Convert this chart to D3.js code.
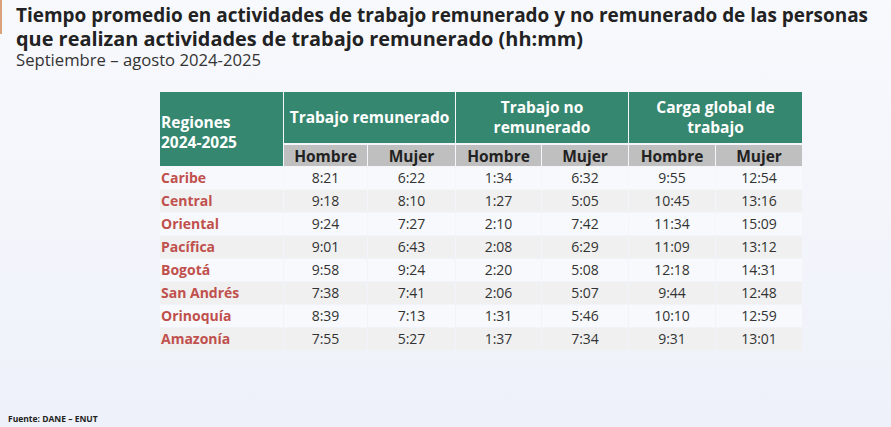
<!DOCTYPE html>
<html><head><meta charset="utf-8">
<script src="https://cdn.jsdelivr.net/npm/d3@7"></script>
<style>body{margin:0;}svg{display:block;}</style>
</head><body><svg id="c" width="891" height="427"></svg>
<script>
const regions = ["Caribe","Central","Oriental","Pacífica","Bogotá","San Andrés","Orinoquía","Amazonía"];
const tremHombre = ["8:21","9:18","9:24","9:01","9:58","7:38","8:39","7:55"];
const tremMujer  = ["6:22","8:10","7:27","6:43","9:24","7:41","7:13","5:27"];
const tnoHombre  = ["1:34","1:27","2:10","2:08","2:20","2:06","1:31","1:37"];
const tnoMujer   = ["6:32","5:05","7:42","6:29","5:08","5:07","5:46","7:34"];
const cargaHombre= ["9:55","10:45","11:34","11:09","12:18","9:44","10:10","9:31"];
const cargaMujer = ["12:54","13:16","15:09","13:12","14:31","12:48","12:59","13:01"];
const groups = [["Trabajo remunerado"],["Trabajo no","remunerado"],["Carga global de","trabajo"]];
const subLabels = ["Hombre","Mujer"];
const cols = [tremHombre,tremMujer,tnoHombre,tnoMujer,cargaHombre,cargaMujer];

const svg = d3.select("#c");
const F = "'Open Sans','Noto Sans',sans-serif";
const defs = svg.append("defs");
const g = defs.append("linearGradient").attr("id","bg").attr("x1",0).attr("y1",0).attr("x2",0).attr("y2",1);
g.append("stop").attr("offset","0").attr("stop-color","#f8f9fd");
g.append("stop").attr("offset","1").attr("stop-color","#eef1f9");
svg.append("rect").attr("width",891).attr("height",427).attr("fill","url(#bg)");
svg.append("rect").attr("x",0).attr("y",0).attr("width",2).attr("height",34).attr("fill","#d9a27a");

svg.append("text").attr("x",16).attr("y",22).attr("font-family",F).attr("font-weight",700).attr("font-size",19).attr("fill","#222")
  .attr("textLength",852).attr("lengthAdjust","spacingAndGlyphs")
  .text("Tiempo promedio en actividades de trabajo remunerado y no remunerado de las personas");
svg.append("text").attr("x",16).attr("y",46).attr("font-family",F).attr("font-weight",700).attr("font-size",19).attr("fill","#222")
  .attr("textLength",567).attr("lengthAdjust","spacingAndGlyphs")
  .text("que realizan actividades de trabajo remunerado (hh:mm)");
svg.append("text").attr("x",16).attr("y",66).attr("font-family",F).attr("font-size",16).attr("fill","#333")
  .attr("textLength",245).attr("lengthAdjust","spacingAndGlyphs")
  .text("Septiembre – agosto 2024-2025");
svg.append("text").attr("x",8).attr("y",422).attr("font-family",F).attr("font-weight",700).attr("font-size",8.5).attr("fill","#222")
  .text("Fuente: DANE – ENUT");

const x0 = 160, regW = 123;
const colEdges = [283,367,455,541,628,715,802];
const xs = d3.scaleBand().domain(d3.range(8)).range([166,350]);
const green = "#36876f";
const T = svg.append("g");
const hs = 15.5;
T.append("rect").attr("x",x0).attr("y",92).attr("width",regW).attr("height",74).attr("fill",green);
T.append("text").attr("x",x0+1).attr("y",128).attr("font-family",F).attr("font-weight",700).attr("font-size",hs).attr("fill","#fff").text("Regiones");
T.append("text").attr("x",x0+1).attr("y",148).attr("font-family",F).attr("font-weight",700).attr("font-size",hs).attr("fill","#fff").text("2024-2025");
groups.forEach((lines,i)=>{
  const a = colEdges[i*2]+1, b = colEdges[i*2+2];
  T.append("rect").attr("x",a).attr("y",92).attr("width",b-a).attr("height",51).attr("fill",green);
  const cy = 118, n = lines.length;
  lines.forEach((l,j)=>T.append("text").attr("x",(a+b)/2).attr("y",cy+5+(j-(n-1)/2)*20)
    .attr("text-anchor","middle").attr("font-family",F).attr("font-weight",700).attr("font-size",hs).attr("fill","#fff").text(l));
});
for(let k=0;k<6;k++){
  const a = colEdges[k]+1, b = colEdges[k+1];
  T.append("rect").attr("x",a).attr("y",145).attr("width",b-a).attr("height",21).attr("fill","#bfbfbf");
  T.append("text").attr("x",(a+b)/2).attr("y",162).attr("text-anchor","middle").attr("font-family",F).attr("font-weight",700)
    .attr("font-size",15.5).attr("fill","#222").text(subLabels[k%2]);
}
regions.forEach((r,i)=>{
  const y = xs(i), h = xs.bandwidth();
  const fill = i%2 ? "#f0f0f0" : "#f8f9fc";
  T.append("rect").attr("x",x0).attr("y",y+1).attr("width",regW).attr("height",h-1).attr("fill",fill);
  T.append("text").attr("x",x0+1).attr("y",y+h/2+5).attr("font-family",F).attr("font-weight",700).attr("font-size",14).attr("fill","#c0504d").text(r);
  cols.forEach((c,k)=>{
    const a = colEdges[k]+1, b = colEdges[k+1];
    T.append("rect").attr("x",a).attr("y",y+1).attr("width",b-a).attr("height",h-1).attr("fill",fill);
    T.append("text").attr("x",(a+b)/2).attr("y",y+h/2+5).attr("text-anchor","middle").attr("font-family",F)
      .attr("font-size",14).attr("fill","#333").text(c[i]);
  });
});
</script></body></html>
